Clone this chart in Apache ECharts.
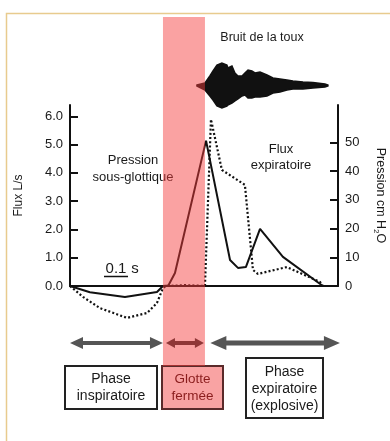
<!DOCTYPE html>
<html>
<head>
<meta charset="utf-8">
<script src="https://cdn.jsdelivr.net/npm/echarts@6/dist/echarts.min.js"></script>
<style>
html,body{margin:0;padding:0;background:#fff}
#chart{width:390px;height:441px}
</style>
</head>
<body>
<div id="chart"></div>
<script>
// temps en secondes (0.1 s = barre d'echelle)
var xMax = 1.117;

// flux L/s (trait plein, axe gauche)
var fluxTime = [0, 0.083, 0.229, 0.3625, 0.3875, 0.41, 0.4375, 0.567, 0.667, 0.70, 0.733, 0.792, 0.8875, 1.054];
var flux     = [0, -0.22, -0.39, -0.21, 0, 0.02, 0.46, 5.14, 0.92, 0.64, 0.67, 2.02, 1.03, 0];

// pression sous-glottique cm H2O (pointilles, axe droit)
var pressTime = [0, 0.054, 0.125, 0.2375, 0.321, 0.3625, 0.3875, 0.40, 0.48, 0.5625, 0.5875, 0.633, 0.729, 0.7625, 0.783, 0.904, 1.042, 1.054];
var pressure  = [0, -3.8, -7.7, -11.1, -9.4, -5.9, -0.7, 0, 0.3, 0, 58, 40.4, 35.2, 5.6, 4.2, 6.6, 1.4, 0];

// bruit de la toux : enveloppe haute / basse
var waveTime  = [0.529, 0.5625, 0.583, 0.596, 0.6125, 0.633, 0.654, 0.658, 0.675, 0.6875, 0.70, 0.717, 0.729, 0.742, 0.758, 0.771, 0.792, 0.821, 0.846, 0.875, 0.904, 0.929, 0.971, 1.0125, 1.0625, 1.075];
var waveUpper = [0.5, 2.5, 9.5, 14.5, 20.5, 22.5, 20.5, 17.5, 19.5, 12.5, 9.5, 9.5, 12.5, 15.5, 14.5, 12.5, 13.5, 10.5, 7.5, 6.5, 5.5, 4.5, 3.5, 3, 1.5, 0.5];
var waveLower = [-0.5, -4.5, -10.5, -14.5, -20.5, -22.5, -20.5, -19.5, -17.5, -15.5, -13.5, -10.5, -9.5, -12.5, -12.5, -11.5, -11.5, -10.5, -7.5, -6.5, -4.5, -3.5, -3.5, -2.5, -1.5, -0.5];

// ticks
var fluxTicks = [0, 1, 2, 3, 4, 5, 6];
var pressTicks = [0, 10, 20, 30, 40, 50];

// phases
var phaseStart = [0, 0.40, 0.585];
var phaseEnd   = [0.3875, 0.558, 1.125];
var glotteStart = 0.3875, glotteEnd = 0.5625;
var scaleStart = 0.1417, scaleLen = 0.1;

var ff = '"Liberation Sans", Arial, sans-serif';
var chart = echarts.init(document.getElementById('chart'));

function zip(a, b) {
	var out = [];
	for (var i = 0; i < a.length; i++) out.push([a[i], b[i]]);
	return out;
}

var option = {
	animation: false,
	grid: [
		{left: 70, right: 52, top: 105, bottom: 155, outerBoundsMode: 'none'},
		{left: 70, right: 52, top: 61.5, height: 48, outerBoundsMode: 'none'}
	],
	xAxis: [
		{
			gridIndex: 0, type: 'value', min: 0, max: xMax,
			axisLine: {lineStyle: {color: '#111', width: 2}},
			axisTick: {show: false}, axisLabel: {show: false}, splitLine: {show: false}
		},
		{gridIndex: 1, type: 'value', min: 0, max: xMax, show: false}
	],
	yAxis: [
		{
			gridIndex: 0, type: 'value', min: 0, max: 6.4, position: 'left',
			name: 'Flux L/s', nameLocation: 'middle', nameGap: 45,
			nameTextStyle: {fontFamily: ff, fontSize: 12, color: '#1a1a1a'},
			axisLine: {show: true, lineStyle: {color: '#111', width: 2}},
			axisTick: {show: true, inside: true, length: 8, lineStyle: {width: 2}, customValues: fluxTicks},
			axisLabel: {
				customValues: fluxTicks, margin: 7, fontFamily: ff, fontSize: 13, color: '#1a1a1a',
				formatter: function (v) { return v.toFixed(1); }
			},
			splitLine: {show: false}
		},
		{
			gridIndex: 0, type: 'value', min: 0, max: 63, position: 'right',
			name: 'Pression cm H{s|2}O', nameLocation: 'middle', nameGap: 34, nameRotate: -90,
			nameTextStyle: {fontFamily: ff, fontSize: 12.5, color: '#1a1a1a',
				rich: {s: {fontFamily: ff, fontSize: 8, color: '#1a1a1a', padding: [8, 0, 0, 0]}}},
			axisLine: {show: true, lineStyle: {color: '#111', width: 2}},
			axisTick: {show: true, inside: true, length: 8, lineStyle: {width: 2}, customValues: pressTicks},
			axisLabel: {customValues: pressTicks, margin: 7, fontFamily: ff, fontSize: 13, color: '#1a1a1a'},
			splitLine: {show: false}
		},
		{gridIndex: 1, type: 'value', min: -24, max: 24, show: false}
	],
	series: [
		{
			type: 'line', xAxisIndex: 0, yAxisIndex: 0, data: zip(fluxTime, flux),
			symbol: 'none', clip: false, z: 3,
			lineStyle: {color: '#111', width: 2}
		},
		{
			type: 'line', xAxisIndex: 0, yAxisIndex: 1, data: zip(pressTime, pressure),
			symbol: 'none', clip: false, z: 3,
			lineStyle: {color: '#111', width: 2.2, type: [2, 2.2]}
		},
		{
			type: 'custom', xAxisIndex: 1, yAxisIndex: 2, data: [[0, 0]],
			renderItem: function (params, api) {
				var pts = [];
				for (var i = 0; i < waveTime.length; i++) pts.push(api.coord([waveTime[i], waveUpper[i]]));
				for (var j = waveTime.length - 1; j >= 0; j--) pts.push(api.coord([waveTime[j], waveLower[j]]));
				return {type: 'polygon', shape: {points: pts}, style: {fill: '#111', stroke: '#111', lineWidth: 1.5}};
			}
		}
	]
};
chart.setOption(option);

function px(t) { return chart.convertToPixel({xAxisIndex: 0}, t); }

function arrow(x1, x2, yc, shaftH, headH, headL, color) {
	return {
		type: 'polygon', z: 40,
		shape: {points: [
			[x1, yc], [x1 + headL, yc - headH / 2], [x1 + headL, yc - shaftH / 2],
			[x2 - headL, yc - shaftH / 2], [x2 - headL, yc - headH / 2], [x2, yc],
			[x2 - headL, yc + headH / 2], [x2 - headL, yc + shaftH / 2],
			[x1 + headL, yc + shaftH / 2], [x1 + headL, yc + headH / 2]
		]},
		style: {fill: color}
	};
}

function label(txt, x, y, size, color) {
	return {
		type: 'text', z: 50,
		style: {text: txt, x: x, y: y, align: 'center', verticalAlign: 'middle',
			font: size + 'px ' + ff, fill: color || '#1a1a1a', lineHeight: size + 3}
	};
}

function box(x, y, w, h, fill, stroke) {
	return {type: 'rect', z: 45, shape: {x: x, y: y, width: w, height: h},
		style: {fill: fill, stroke: stroke, lineWidth: 2}};
}

var gx1 = px(glotteStart), gx2 = px(glotteEnd);
var sx1 = px(scaleStart), sx2 = px(scaleStart + scaleLen);

var elems = [
	{type: 'polyline', z: 10, shape: {points: [[6.5, 441], [6.5, 13.5], [390, 13.5]]},
		style: {stroke: '#e8cb8e', lineWidth: 1.5, fill: null}},
	label('Bruit de la toux', 262, 38, 12.5),
	label('Pression', 133, 160, 13),
	label('sous-glottique', 133, 177, 13),
	label('Flux', 281, 149, 13),
	label('expiratoire', 281, 165, 13),
	label('0.1', (sx1 + sx2) / 2, 269, 15),
	label('s', sx2 + 7, 269, 15),
	{type: 'line', z: 50, shape: {x1: sx1, y1: 276.5, x2: sx2, y2: 276.5}, style: {stroke: '#111', lineWidth: 1.5}},
	arrow(px(phaseStart[0]), px(phaseEnd[0]), 343, 4, 12, 13, '#555'),
	arrow(px(phaseStart[1]), px(phaseEnd[1]), 343, 4, 10, 9, '#333'),
	arrow(px(phaseStart[2]), px(phaseEnd[2]), 343, 5, 14, 16, '#555'),
	box(65, 366, 92, 43, '#fff', '#222'),
	label('Phase\ninspiratoire', 111, 388, 14),
	box(162, 366, 61, 43, '#f9a3a3', '#5a2a2a'),
	label('Glotte\nfermée', 192.5, 388, 13.5, '#8a1d1d'),
	box(246, 358, 77, 60, '#fff', '#222'),
	label('Phase\nexpiratoire\n(explosive)', 284.5, 389, 14),
	{type: 'rect', z: 100, shape: {x: gx1, y: 17, width: gx2 - gx1, height: 349},
		style: {fill: 'rgba(245,60,60,0.48)'}}
];
chart.setOption({graphic: {elements: elems}});
</script>
</body>
</html>
